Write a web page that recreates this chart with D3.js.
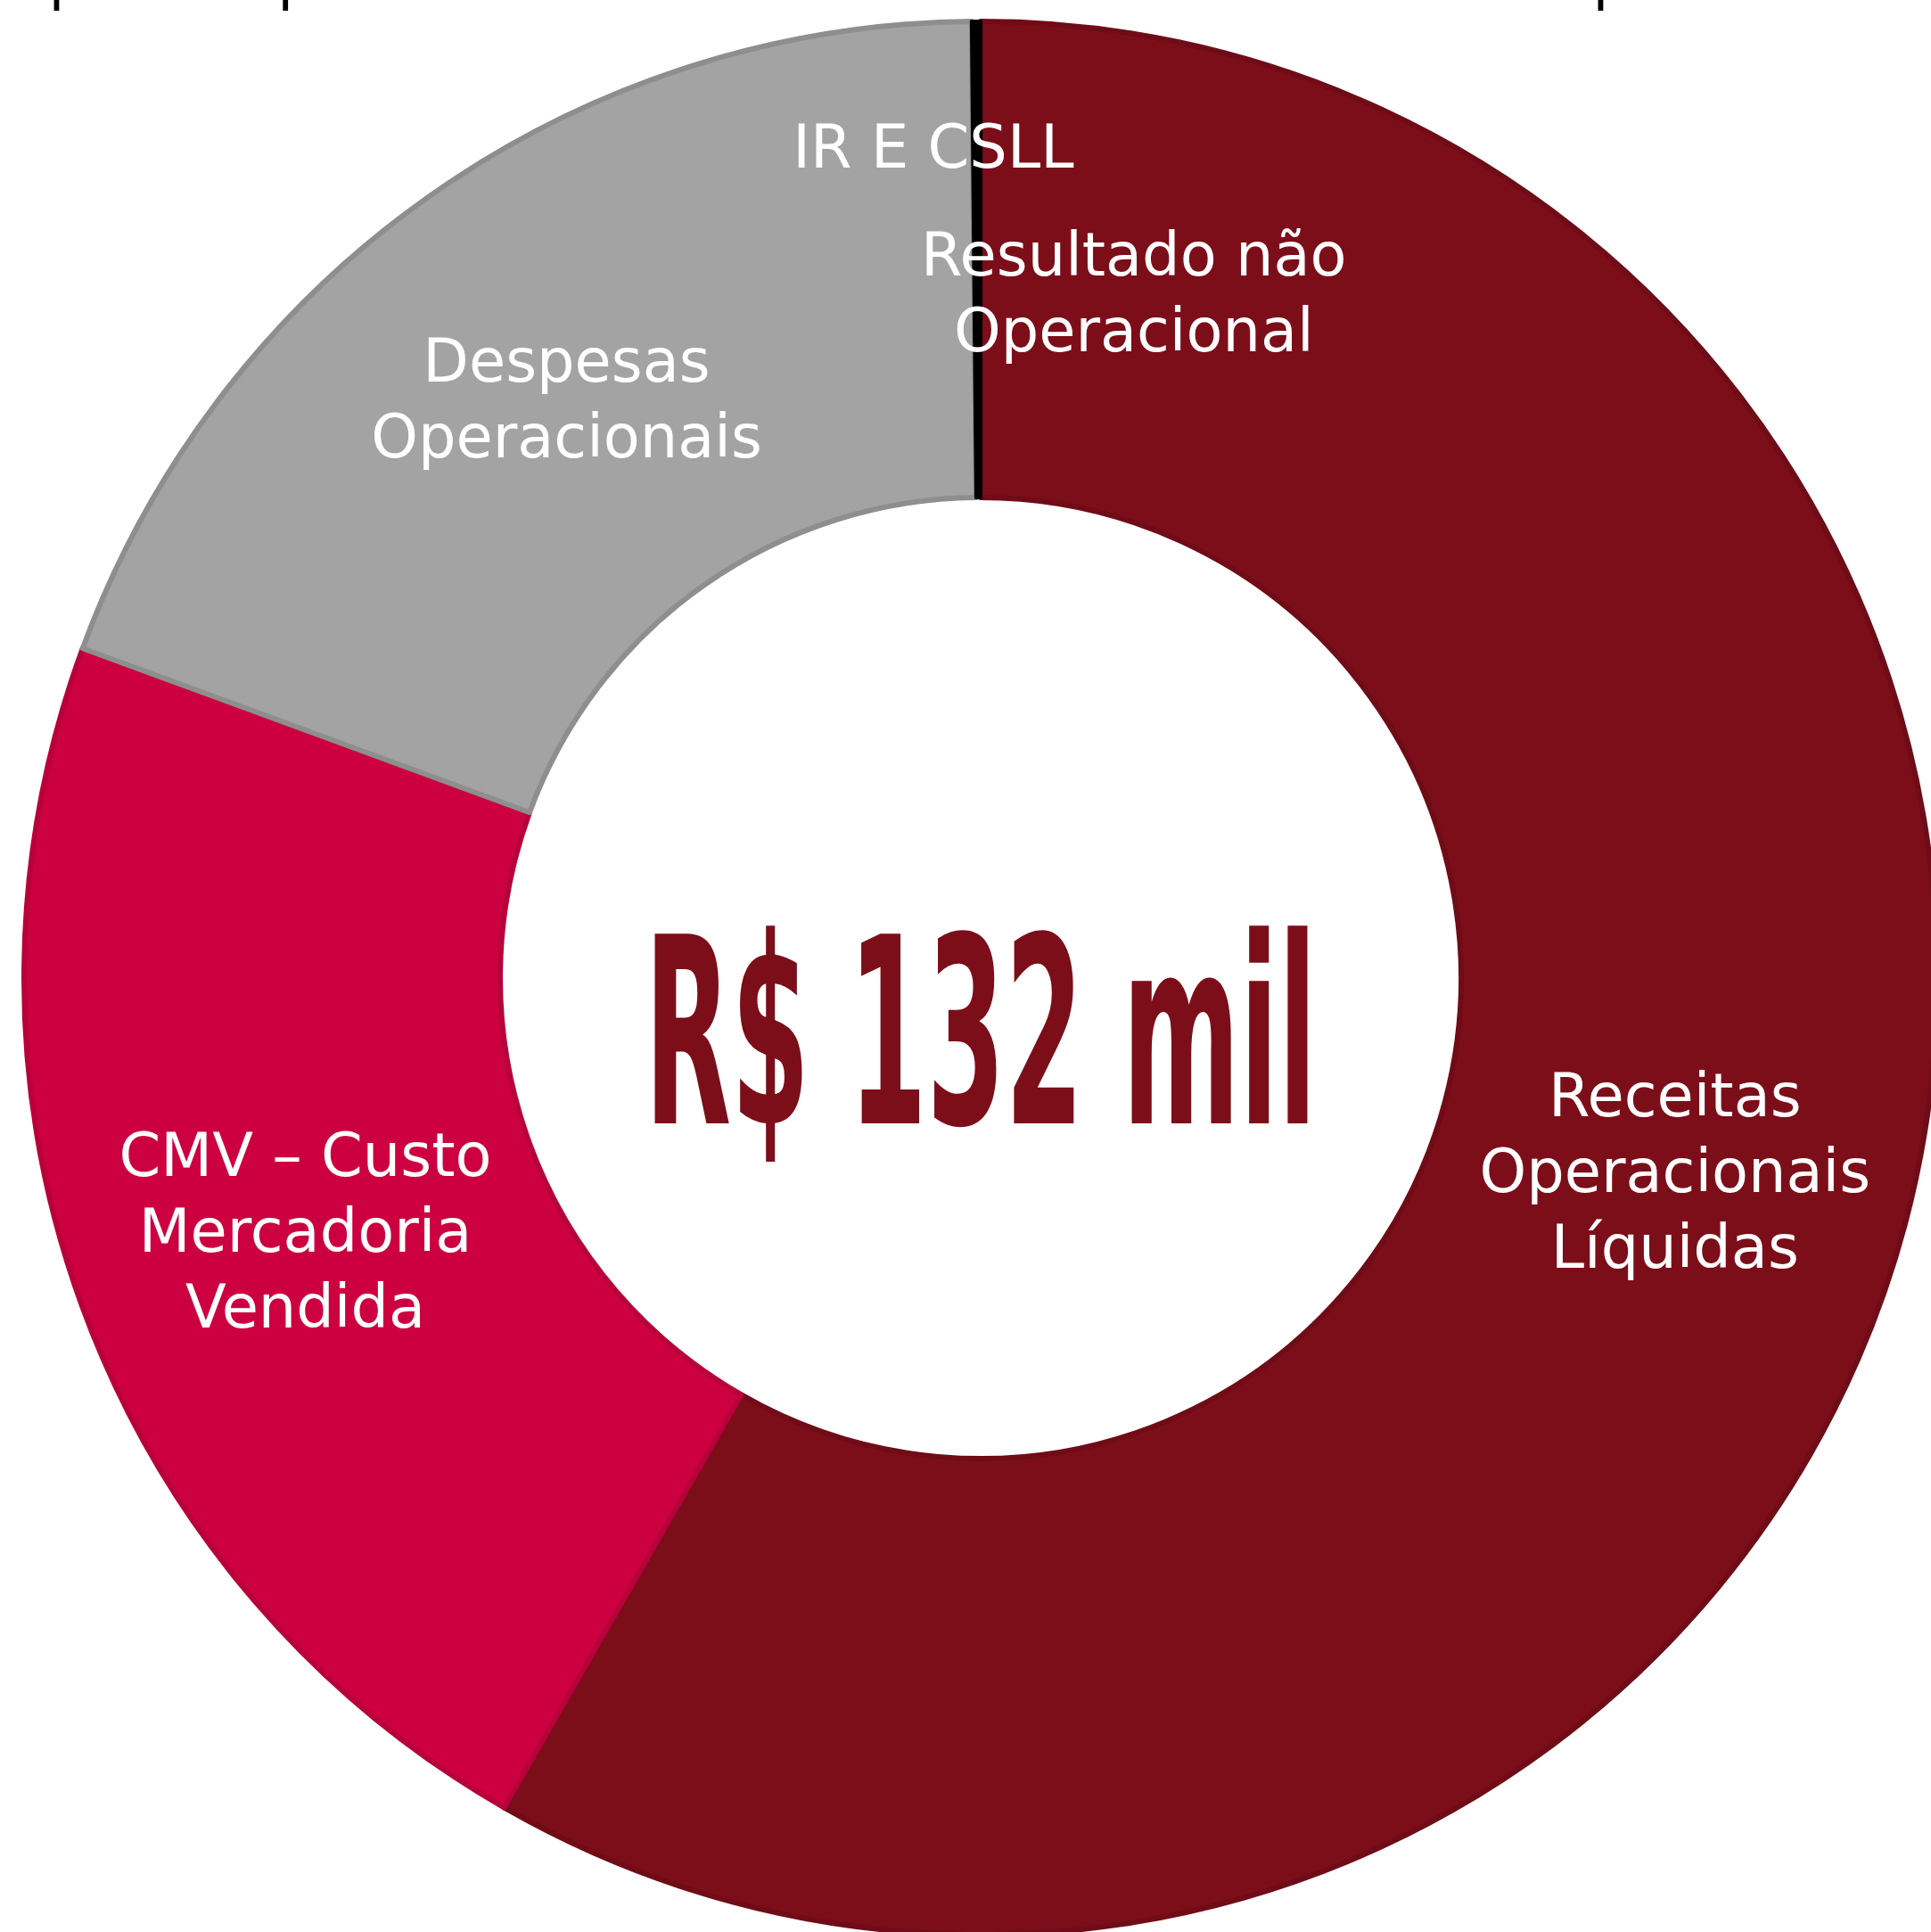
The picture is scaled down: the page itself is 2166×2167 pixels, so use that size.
<!DOCTYPE html>
<html>
<head>
<meta charset="utf-8">
<script src="https://cdn.jsdelivr.net/npm/d3@7"></script>
<style>
  body { margin: 0; background: #fff; }
  svg { display: block; }
</style>
</head>
<body>
<div id="chart"></div>
<script>
// categorias e valores (% do total)
const categorias = ["Receitas Operacionais Líquidas", "CMV – Custo Mercadoria Vendida", "Despesas Operacionais", "IR E CSLL", "Resultado não Operacional"];
const linhas = [["Receitas", "Operacionais", "Líquidas"], ["CMV – Custo", "Mercadoria", "Vendida"], ["Despesas", "Operacionais"], ["IR E CSLL"], ["Resultado não", "Operacional"]];
const valores = [58.3, 22.3, 19.25, 0.1, 0.05];
const cores = ["#7c0e1a", "#cc0040", "#a3a3a3", "#000000", "#000000"];
const bordas = ["#6f0c17", "#b8003a", "#8e8e8e", "#000000", "#000000"];
const totalTexto = "R$ 132 mil";

const width = 2166;
const height = 2167;
const cx = 1100, cy = 1097;
const rOut = 1073, rIn = 539;
const fonte = "'DejaVu Sans', sans-serif";

const svg = d3.select("#chart")
  .append("svg")
  .attr("width", width)
  .attr("height", height);

// texto cortado no topo (restos de outro grafico acima)
[[680, categorias[2]], [2122, categorias[4]]].forEach(([x, t]) => {
  svg.append("text")
    .attr("x", x).attr("y", -1)
    .attr("text-anchor", "end")
    .attr("font-family", fonte)
    .attr("font-size", 64)
    .attr("fill", "#000")
    .text(t);
});

const pie = d3.pie().sort(null).value(d => d);
const arcos = pie(valores);

const arc = d3.arc().innerRadius(rIn).outerRadius(rOut);

const g = svg.append("g").attr("transform", `translate(${cx},${cy})`);

g.selectAll("path")
  .data(arcos)
  .join("path")
  .attr("d", arc)
  .attr("fill", (d, i) => cores[i])
  .attr("stroke", (d, i) => bordas[i])
  .attr("stroke-width", (d, i) => i > 2 ? 4 : 6)
  .attr("stroke-linejoin", "round");

// rotulos no centroide; os das fatias pequenas foram deslocados (como no excel)
const ajuste = [[0, 0], [0, 0], [0, 0], [-48, -135], [173, 28]];
const lh = 85;

const rot = g.selectAll("text.rot")
  .data(arcos)
  .join("text")
  .attr("class", "rot")
  .attr("font-family", fonte)
  .attr("font-size", 67)
  .attr("fill", "#fff")
  .attr("text-anchor", "middle")
  .attr("transform", (d, i) => {
    const c = arc.centroid(d);
    return `translate(${c[0] + ajuste[i][0]},${c[1] + ajuste[i][1]})`;
  });

rot.each(function (d, i) {
  const l = linhas[i];
  d3.select(this).selectAll("tspan")
    .data(l)
    .join("tspan")
    .attr("x", 0)
    .attr("y", (t, j) => (j - (l.length - 1) / 2) * lh + 32)
    .text(t => t);
});

// valor total no centro - fonte estreita, comprimida na horizontal
const total = g.append("text")
  .attr("x", 0)
  .attr("y", 163)
  .attr("text-anchor", "middle")
  .attr("font-family", "'DejaVu Sans Condensed', 'DejaVu Sans', sans-serif")
  .attr("font-weight", "bold")
  .attr("font-size", 292)
  .attr("fill", "#7c0e1a")
  .text(totalTexto);
const larg = total.node().getComputedTextLength();
total.attr("transform", `scale(${754 / larg},1)`);
</script>
</body>
</html>
